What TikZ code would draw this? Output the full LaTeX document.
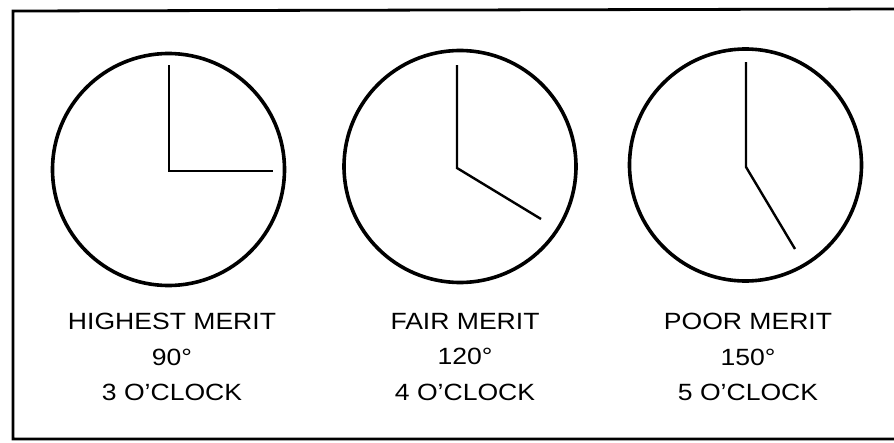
\documentclass[tikz,border=0pt]{standalone}
\usepackage{fontspec}
\setmainfont[FakeStretch=1.13]{Liberation Sans}
\begin{document}
\begin{tikzpicture}[x=1pt,y=-1pt,
  dial/.style={circle,draw,line width=3.6pt,minimum size=232pt,inner sep=0pt},
  hand/.style={line width=2.4pt,line join=miter},
  frame/.style={line width=2.8pt},
  caption/.style={align=center,font=\fontsize{23.5}{35.5}\selectfont,inner sep=0pt}]
\useasboundingbox (0,0) rectangle (894,442);
% frame (open on the right)
\coordinate (ftr) at (894,9);
\coordinate (ftl) at (13,11);
\coordinate (fbl) at (13,439);
\coordinate (fbr) at (894,439);
\draw[frame] (ftr) -- (ftl) -- (fbl) -- (fbr);
% dials
\node[dial] (c1) at (168.5,169.5) {};
\node[dial] (c2) at (460,166.5) {};
\node[dial] (c3) at (745.5,165) {};
% hands
\coordinate (h1) at (169,171);
\coordinate (m1) at (169,65);
\coordinate (e1) at (273,171);
\draw[hand] (m1) -- (h1) -- (e1);
\coordinate (h2) at (457,168);
\coordinate (m2) at (457,65);
\coordinate (e2) at (541,219);
\draw[hand] (m2) -- (h2) -- (e2);
\coordinate (h3) at (746,167);
\coordinate (m3) at (746,62);
\coordinate (e3) at (795,249);
\draw[hand] (m3) -- (h3) -- (e3);
% captions
\node[caption] (t1) at (172,357) {HIGHEST MERIT\\90°\\3 O'CLOCK};
\node[caption] (t2) at (465,357) {FAIR MERIT\\120°\\4 O'CLOCK};
\node[caption] (t3) at (748,357) {POOR MERIT\\150°\\5 O'CLOCK};
\end{tikzpicture}
\end{document}
